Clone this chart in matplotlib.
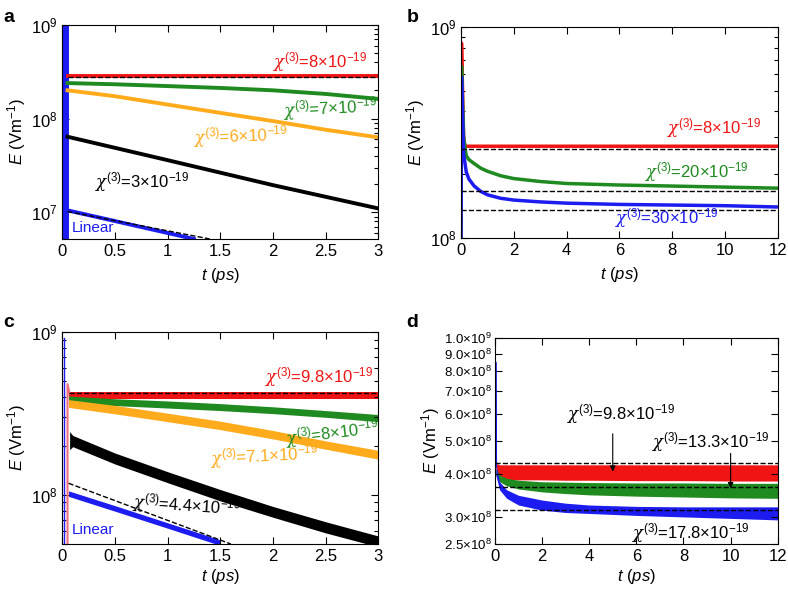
import numpy as np
import matplotlib.pyplot as plt
from matplotlib.ticker import FixedLocator, FixedFormatter, NullLocator, NullFormatter

plt.rcParams['font.family'] = ['Liberation Sans', 'DejaVu Sans']
plt.rcParams['mathtext.fontset'] = 'custom'
plt.rcParams['mathtext.rm'] = 'Liberation Sans'
plt.rcParams['mathtext.it'] = 'Liberation Sans:italic'
plt.rcParams['mathtext.bf'] = 'Liberation Sans:bold'
plt.rcParams['mathtext.sf'] = 'DejaVu Serif:italic'
plt.rcParams['font.size'] = 12

RED = '#f01414'
GREEN = '#1f8a1f'
ORANGE = '#ffab1c'
BLUE = '#1c1cf0'

# ---- panel a (smooth curves, t in ps, E in V/m)
a_spike_t = [0.03, 0.03]
a_spike_E = [1e6, 1e10]
a_red_t = [0.05, 3.0]
a_red_E = [2.85e8, 2.85e8]
a_red_dash = [2.75e8, 2.75e8]
a_green_t = [0.05, 0.5, 1.0, 1.5, 2.0, 2.5, 3.0]
a_green_E = [2.39e8, 2.32e8, 2.22e8, 2.12e8, 2.0e8, 1.83e8, 1.62e8]
a_orange_t = [0.05, 0.5, 1.0, 1.5, 2.0, 2.5, 3.0]
a_orange_E = [2.0e8, 1.73e8, 1.41e8, 1.15e8, 9.4e7, 7.6e7, 6.3e7]
a_black_t = [0.05, 1.0, 2.0, 3.0]
a_black_E = [6.4e7, 3.6e7, 1.95e7, 1.1e7]
a_lin_t = [0.05, 1.25]
a_lin_E = [1.05e7, 5.2e6]
a_lin_dash_t = [0.05, 1.4]
a_lin_dash_E = [1.02e7, 5.2e6]

# ---- panel b
b_t = [0.0, 0.02, 0.1, 0.2, 0.3, 0.5, 0.75, 1, 1.5, 2, 3, 4, 6, 8, 10, 12]
b_red_t = [0.0, 0.02, 0.1, 0.15, 12]
b_red_E = [1e8, 8.4e8, 3.0e8, 2.72e8, 2.72e8]
b_green_E = [1e8, 6.5e8, 3.0e8, 2.45e8, 2.35e8, 2.25e8, 2.14e8, 2.07e8, 1.97e8,
             1.91e8, 1.85e8, 1.81e8, 1.78e8, 1.76e8, 1.74e8, 1.72e8]
b_blue_E = [1e8, 5.8e8, 2.5e8, 2.05e8, 1.9e8, 1.76e8, 1.66e8, 1.6e8, 1.54e8,
            1.51e8, 1.48e8, 1.46e8, 1.44e8, 1.43e8, 1.42e8, 1.40e8]
b_dash_levels = [2.64e8, 1.67e8, 1.36e8]

# ---- panel c (noisy bands: upper / lower envelopes)
c_t = [0.06, 0.5, 1.0, 1.5, 2.0, 2.5, 3.0]
c_red_hi = [4.3e8, 4.3e8, 4.3e8, 4.3e8, 4.3e8, 4.3e8, 4.3e8]
c_red_lo = [3.9e8, 3.9e8, 3.9e8, 3.9e8, 3.9e8, 3.9e8, 3.9e8]
c_green_hi = [4.05e8, 3.9e8, 3.78e8, 3.64e8, 3.48e8, 3.3e8, 3.12e8]
c_green_lo = [3.65e8, 3.54e8, 3.42e8, 3.3e8, 3.16e8, 3.0e8, 2.82e8]
c_orange_hi = [3.85e8, 3.55e8, 3.18e8, 2.84e8, 2.49e8, 2.15e8, 1.88e8]
c_orange_lo = [3.45e8, 3.15e8, 2.82e8, 2.52e8, 2.21e8, 1.91e8, 1.66e8]
c_black_t = [0.07, 0.1, 0.5, 1.0, 1.5, 2.0, 2.5, 3.0]
c_black_hi = [2.45e8, 2.32e8, 1.81e8, 1.39e8, 1.08e8, 8.5e7, 6.85e7, 5.6e7]
c_black_lo = [1.9e8, 1.98e8, 1.55e8, 1.19e8, 9.2e7, 7.3e7, 5.85e7, 4.8e7]
c_lin_t = [0.06, 0.5, 1.0, 1.5]
c_lin_hi = [1.06e8, 8.6e7, 6.75e7, 5.3e7]
c_lin_lo = [9.8e7, 7.95e7, 6.25e7, 4.9e7]
c_red_dash = [4.22e8, 4.22e8]
c_lin_dash_t = [0.06, 1.6]
c_lin_dash_E = [1.18e8, 5.0e7]
c_blue_spike_t = [0.02, 0.02]
c_blue_spike_E = [1e7, 9.2e8]
c_red_spike_t = [0.05, 0.05, 0.07]
c_red_spike_E = [1e7, 4.8e8, 4.2e8]

# ---- panel d
d_t = [0.05, 0.2, 0.5, 1, 2, 3, 4, 6, 8, 10, 12]
d_red_hi = [4.3e8, 4.26e8, 4.26e8, 4.26e8, 4.26e8, 4.26e8, 4.26e8, 4.26e8, 4.26e8, 4.26e8, 4.26e8]
d_red_lo = [4.0e8, 3.88e8, 3.86e8, 3.85e8, 3.85e8, 3.84e8, 3.84e8, 3.83e8, 3.83e8, 3.82e8, 3.82e8]
d_green_hi = [4.15e8, 3.98e8, 3.89e8, 3.84e8, 3.8e8, 3.79e8, 3.78e8, 3.77e8, 3.77e8, 3.76e8, 3.76e8]
d_green_lo = [3.95e8, 3.8e8, 3.7e8, 3.62e8, 3.55e8, 3.51e8, 3.48e8, 3.45e8, 3.43e8, 3.41e8, 3.4e8]
d_blue_hi = [4.25e8, 3.8e8, 3.6e8, 3.47e8, 3.36e8, 3.29e8, 3.25e8, 3.22e8, 3.21e8, 3.21e8, 3.21e8]
d_blue_lo = [3.95e8, 3.6e8, 3.4e8, 3.25e8, 3.14e8, 3.09e8, 3.07e8, 3.03e8, 3.0e8, 2.97e8, 2.94e8]
d_dash_levels = [4.3e8, 3.66e8, 3.14e8]
d_spike_t = [0.0, 0.03, 0.06]
d_spike_E = [2.4e8, 8.5e8, 4.2e8]
d_yticks = [2.5e8, 3e8, 4e8, 5e8, 6e8, 7e8, 8e8, 9e8, 1e9]
d_yticklabels = ['2.5×10$^8$', '3.0×10$^8$', '4.0×10$^8$', '5.0×10$^8$', '6.0×10$^8$',
                 '7.0×10$^8$', '8.0×10$^8$', '9.0×10$^8$', '1.0×10$^9$']
d_arrow_t = [5, 10]
d_arrow_from = [5.25e8, 4.6e8]
d_arrow_to = [4.07e8, 3.64e8]


def chi(v):
    return r'$\mathsf{\chi}^{(3)}$=' + v + r'×10$^{-19}$'


def style(ax, pad=2):
    ax.set_yscale('log')
    ax.tick_params(which='both', direction='in', top=True, right=True, labelsize=12)
    ax.tick_params(which='major', length=5, width=0.8)
    ax.tick_params(which='minor', length=3, width=0.8)
    ax.xaxis.set_minor_locator(NullLocator())
    ax.yaxis.set_minor_formatter(NullFormatter())
    ax.set_xlabel('$t$ ($ps$)', fontsize=12, labelpad=pad)
    ax.set_ylabel('$E$ (Vm$^{-1}$)', fontsize=12, labelpad=2)


def label(ax, x, y, s, color, rot=0, size=12):
    ax.text(x, y, s, color=color, ha='center', va='center', fontsize=size,
            rotation=rot, zorder=6)


fig = plt.figure(figsize=(7.88, 5.9), dpi=100)
ax_a = fig.add_axes([0.079, 0.595, 0.401, 0.363])
ax_b = fig.add_axes([0.585, 0.597, 0.402, 0.357])
ax_c = fig.add_axes([0.079, 0.078, 0.401, 0.359])
ax_d = fig.add_axes([0.628, 0.078, 0.359, 0.349])

# a
ax = ax_a
style(ax, pad=5)
ax.plot(a_spike_t, a_spike_E, color=BLUE, lw=5)
ax.plot(a_red_t, a_red_E, color=RED, lw=2.8)
ax.plot(a_red_t, a_red_dash, 'k--', lw=1)
ax.plot(a_green_t, a_green_E, color=GREEN, lw=2.8)
ax.plot(a_orange_t, a_orange_E, color=ORANGE, lw=2.8)
ax.plot(a_black_t, a_black_E, color='k', lw=2.8)
ax.plot(a_lin_t, a_lin_E, color=BLUE, lw=2.8)
ax.plot(a_lin_dash_t, a_lin_dash_E, 'k--', lw=1)
ax.set_xlim(0, 3)
ax.set_ylim(5.2e6, 1e9)
ax.set_xticks([0, 0.5, 1, 1.5, 2, 2.5, 3])
ax.set_xticklabels(['0', '0.5', '1', '1.5', '2', '2.5', '3'])
label(ax, 2.45, 4.0e8, chi('8'), RED)
label(ax, 2.55, 1.28e8, chi('7'), GREEN, rot=3)
label(ax, 1.69, 6.5e7, chi('6'), ORANGE, rot=2)
label(ax, 0.76, 2.1e7, chi('3'), 'k')
label(ax, 0.29, 6.8e6, 'Linear', BLUE, size=11)

# b
ax = ax_b
style(ax, pad=5)
ax.plot(b_red_t, b_red_E, color=RED, lw=2.5)
ax.plot(b_t, b_green_E, color=GREEN, lw=2.5)
ax.plot(b_t, b_blue_E, color=BLUE, lw=2.5)
for lev in b_dash_levels:
    ax.plot([0, 12], [lev, lev], 'k--', lw=1)
ax.set_xlim(0, 12)
ax.set_ylim(1e8, 1e9)
ax.set_xticks([0, 2, 4, 6, 8, 10, 12])
label(ax, 9.6, 3.32e8, chi('8'), RED)
label(ax, 8.94, 2.06e8, chi('20'), GREEN)
label(ax, 7.78, 1.24e8, chi('30'), BLUE)

# c
ax = ax_c
style(ax)
ax.plot(c_blue_spike_t, c_blue_spike_E, color=BLUE, lw=1)
ax.plot(c_red_spike_t, c_red_spike_E, color='#f07080', lw=1.5)
ax.fill_between(c_t, c_red_lo, c_red_hi, color=RED, lw=0)
ax.plot([c_t[0], c_t[-1]], c_red_dash, 'k--', lw=1)
ax.fill_between(c_t, c_green_lo, c_green_hi, color=GREEN, lw=0)
ax.fill_between(c_t, c_orange_lo, c_orange_hi, color=ORANGE, lw=0)
ax.fill_between(c_black_t, c_black_lo, c_black_hi, color='k', lw=0)
ax.fill_between(c_lin_t, c_lin_lo, c_lin_hi, color=BLUE, lw=0)
ax.plot(c_lin_dash_t, c_lin_dash_E, 'k--', lw=1)
ax.set_xlim(0, 3)
ax.set_ylim(5e7, 1e9)
ax.set_xticks([0, 0.5, 1, 1.5, 2, 2.5, 3])
ax.set_xticklabels(['0', '0.5', '1', '1.5', '2', '2.5', '3'])
label(ax, 2.44, 5.3e8, chi('9.8'), RED)
label(ax, 2.56, 2.39e8, chi('8'), GREEN, rot=7)
label(ax, 1.92, 1.74e8, chi('7.1'), ORANGE, rot=3)
label(ax, 1.18, 8.6e7, chi('4.4'), 'k', rot=-4)
label(ax, 0.29, 6.1e7, 'Linear', BLUE, size=11)

# d
ax = ax_d
style(ax)
ax.plot(d_spike_t, d_spike_E, color=BLUE, lw=1.2)
ax.fill_between(d_t, d_red_lo, d_red_hi, color=RED, lw=0)
ax.fill_between(d_t, d_green_lo, d_green_hi, color=GREEN, lw=0)
ax.fill_between(d_t, d_blue_lo, d_blue_hi, color=BLUE, lw=0)
for lev in d_dash_levels:
    ax.plot([0, 12], [lev, lev], 'k--', lw=1)
ax.set_xlim(0, 12)
ax.set_ylim(2.5e8, 1e9)
ax.yaxis.set_major_locator(FixedLocator(d_yticks))
ax.yaxis.set_major_formatter(FixedFormatter(d_yticklabels))
ax.yaxis.set_minor_locator(NullLocator())
ax.tick_params(axis='y', labelsize=9.5, pad=2)
ax.set_xticks([0, 2, 4, 6, 8, 10, 12])
for xa, y0, y1 in zip(d_arrow_t, d_arrow_from, d_arrow_to):
    ax.annotate('', xy=(xa, y1), xytext=(xa, y0),
                arrowprops=dict(arrowstyle='-|>', color='k', lw=0.8,
                                shrinkA=0, shrinkB=0, mutation_scale=8))
label(ax, 5.34, 6.0e8, chi('9.8'), 'k')
label(ax, 9.17, 4.98e8, chi('13.3'), 'k')
label(ax, 8.3, 2.69e8, chi('17.8'), 'k')

for lab, x, y in [('a', 0.004, 0.985), ('b', 0.516, 0.985), ('c', 0.004, 0.468), ('d', 0.516, 0.468)]:
    fig.text(x, y, lab, fontsize=14, fontweight='bold', ha='left', va='top')

fig.savefig('out.png', dpi=100)
